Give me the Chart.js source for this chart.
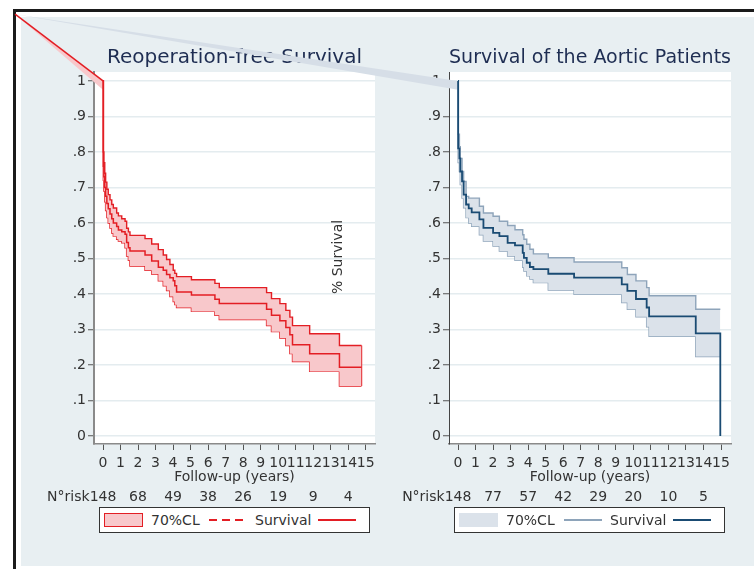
<!DOCTYPE html>
<html>
<head>
<meta charset="utf-8">
<script src="https://cdn.jsdelivr.net/npm/chart.js@4"></script>
<style>
  body { margin: 0; background: #fff; }
  #wrap { position: relative; width: 754px; height: 569px; overflow: hidden; font-family: "DejaVu Sans", sans-serif; }
  .frame { position: absolute; background: #1b1b1b; }
  #panel { position: absolute; left: 21px; top: 17px; right: 0; height: 549px; background: #e8eff2; }
  canvas { position: absolute; left: 0; top: 0; }
  .legend { position: absolute; top: 507px; width: 269px; height: 24px; background: #fff; border: 1px solid #333; }
  .legend span { position: absolute; }
  .legend .txt { top: 0; line-height: 24px; font-size: 14px; color: #333; white-space: nowrap; }
  .legend .sw { top: 5px; width: 39px; height: 14px; box-sizing: border-box; }
  .legend .key { width: 38px; }
</style>
</head>
<body>
<div id="wrap">
  <div id="panel"></div>
  <div class="frame" style="left:13px;top:9px;width:741px;height:3px"></div>
  <div class="frame" style="left:13px;top:9px;width:3px;height:560px"></div>
  <canvas id="leftChart" width="754" height="569"></canvas>
  <canvas id="rightChart" width="754" height="569"></canvas>

  <div class="legend" style="left:99px">
    <span class="sw" style="left:4px;background:#f8c8cb;border:1.5px solid #e31e24"></span>
    <span class="txt" style="left:51px">70%CL</span>
    <span class="key" style="left:109px;top:11px;height:1.5px;background:repeating-linear-gradient(to right,#e31e24 0 8px,transparent 8px 13px)"></span>
    <span class="txt" style="left:155px">Survival</span>
    <span class="key" style="left:218px;top:11px;height:1.5px;background:#e31e24"></span>
  </div>
  <div class="legend" style="left:454px">
    <span class="sw" style="left:4px;background:#dbe2ea"></span>
    <span class="txt" style="left:51px">70%CL</span>
    <span class="key" style="left:109px;top:11px;height:1.5px;background:#8ea4ba"></span>
    <span class="txt" style="left:155px">Survival</span>
    <span class="key" style="left:218px;top:11px;height:2px;background:#1a4b73"></span>
  </div>
</div>

<script>
// axis ticks
const xTicks = [0, 1, 2, 3, 4, 5, 6, 7, 8, 9, 10, 11, 12, 13, 14, 15];
const yTicks = [0, 0.1, 0.2, 0.3, 0.4, 0.5, 0.6, 0.7, 0.8, 0.9, 1];
const yTickLabels = ['0', '.1', '.2', '.3', '.4', '.5', '.6', '.7', '.8', '.9', '1'];

// numbers at risk
const riskYears = [0, 2, 4, 6, 8, 10, 12, 14];
const leftRisk = ['148', '68', '49', '38', '26', '19', '9', '4'];
const rightRisk = ['148', '77', '57', '42', '29', '20', '10', '5'];

// Reoperation-free survival (years, KM estimate, 70% CL)
const leftT = [0, 0.02, 0.05, 0.1, 0.15, 0.22, 0.3, 0.4, 0.5, 0.59, 0.78, 0.88, 1.07, 1.26, 1.35, 1.45, 1.54, 2.4, 2.78, 3.16,
  3.44, 3.63, 3.82, 4.01, 4.1, 4.2, 5.05, 6.39, 6.64, 9.34, 9.62, 10.1, 10.44, 10.67, 10.82, 11.8, 13.5, 14.76];
const leftSurv = [1, 0.76, 0.73, 0.70, 0.675, 0.655, 0.64, 0.625, 0.612, 0.60, 0.59, 0.58, 0.575, 0.568, 0.545, 0.53, 0.521, 0.51, 0.493, 0.475,
  0.467, 0.455, 0.446, 0.437, 0.423, 0.406, 0.397, 0.385, 0.373, 0.357, 0.34, 0.325, 0.306, 0.285, 0.257, 0.232, 0.194, 0.194];
const leftHi = [1, 0.80, 0.77, 0.74, 0.715, 0.695, 0.68, 0.665, 0.652, 0.642, 0.628, 0.62, 0.612, 0.605, 0.585, 0.575, 0.565, 0.556, 0.541, 0.525,
  0.51, 0.497, 0.483, 0.467, 0.458, 0.449, 0.44, 0.43, 0.418, 0.404, 0.387, 0.373, 0.354, 0.335, 0.311, 0.288, 0.255, 0.255];
const leftLo = [1, 0.72, 0.69, 0.66, 0.635, 0.615, 0.60, 0.586, 0.572, 0.563, 0.554, 0.549, 0.544, 0.53, 0.507, 0.495, 0.479, 0.467, 0.456, 0.437,
  0.423, 0.41, 0.393, 0.379, 0.37, 0.362, 0.351, 0.34, 0.328, 0.311, 0.294, 0.276, 0.255, 0.232, 0.21, 0.182, 0.141, 0.141];

// Survival of the aortic patients
const rightT = [0, 0.01, 0.08, 0.13, 0.23, 0.32, 0.46, 0.61, 0.78, 1.22, 1.45, 2.0, 2.36, 2.83, 3.25, 3.69, 3.76, 3.92, 4.1, 4.3,
  5.15, 6.62, 9.34, 9.66, 10.15, 10.76, 10.9, 13.56, 14.96];
const rightSurv = [1, 0.81, 0.782, 0.745, 0.717, 0.68, 0.652, 0.641, 0.63, 0.61, 0.586, 0.572, 0.563, 0.544, 0.537, 0.516, 0.502, 0.488, 0.476, 0.47,
  0.457, 0.446, 0.427, 0.409, 0.386, 0.362, 0.337, 0.289, 0];
const rightHi = [1, 0.85, 0.815, 0.782, 0.745, 0.717, 0.675, 0.67, 0.67, 0.647, 0.628, 0.619, 0.605, 0.593, 0.581, 0.567, 0.554, 0.54, 0.526, 0.513,
  0.502, 0.49, 0.474, 0.455, 0.437, 0.418, 0.395, 0.357, 0.357];
const rightLo = [1, 0.77, 0.745, 0.708, 0.67, 0.643, 0.615, 0.60, 0.591, 0.567, 0.549, 0.535, 0.521, 0.507, 0.495, 0.475, 0.465, 0.451, 0.442, 0.432,
  0.411, 0.399, 0.376, 0.357, 0.336, 0.308, 0.281, 0.224, 0.224];

// stray first segments (the original export starts each series from the page corner)
const leftStrayT = [-5.02, 0];
const leftStrayHi = [1.188, 1];
const leftStrayLo = [1.188, 0.975];
const rightStrayT = [-25.27, 0];
const rightStrayHi = [1.188, 1];
const rightStrayLo = [1.188, 0.975];

const FONT = { family: 'DejaVu Sans', size: 14 };
const TXT = '#333';

const pts = (t, v) => t.map((x, i) => ({ x: x, y: v[i] }));

function buildChart(id, cfg) {
    const datasets = [
        { label: 'Survival', data: pts(cfg.t, cfg.surv), stepped: true, borderColor: cfg.lineColor, borderWidth: cfg.lineWidth, pointRadius: 0, fill: false },
        { label: '70%CL', data: pts(cfg.t, cfg.hi), stepped: true, borderColor: cfg.edgeColor, borderWidth: 1.4, pointRadius: 0, backgroundColor: cfg.bandColor, fill: '+1' },
        { label: '70%CL lower', data: pts(cfg.t, cfg.lo), stepped: true, borderColor: cfg.edgeColor, borderWidth: 1.4, pointRadius: 0, fill: false }
    ].concat(cfg.extra || []);

    const extras = {
        id: 'extras_' + id,
        beforeDraw(chart) {
            const a = chart.chartArea, c = chart.ctx;
            c.save();
            c.fillStyle = '#fff';
            c.fillRect(a.left, a.top, a.right - a.left, a.bottom - a.top);
            c.restore();
        },
        beforeDatasetsDraw(chart) {
            const x = chart.scales.x, y = chart.scales.y, c = chart.ctx;
            c.save();
            c.fillStyle = cfg.strayColor;
            c.beginPath();
            c.moveTo(x.getPixelForValue(cfg.strayT[0]), y.getPixelForValue(cfg.strayHi[0]));
            c.lineTo(x.getPixelForValue(cfg.strayT[1]), y.getPixelForValue(cfg.strayHi[1]));
            c.lineTo(x.getPixelForValue(cfg.strayT[1]), y.getPixelForValue(cfg.strayLo[1]));
            c.closePath();
            c.fill();
            c.restore();
        },
        afterDraw(chart) {
            const r = chart.scales.risk, c = chart.ctx;
            c.save();
            c.font = '14px "DejaVu Sans"';
            c.fillStyle = TXT;
            c.textBaseline = 'middle';
            c.textAlign = 'right';
            const x0 = r.getPixelForValue(riskYears[0]) - c.measureText(cfg.risk[0]).width / 2;
            c.fillText('N°risk', x0, r.top + 3 + 8.4);
            if (cfg.yTitle) {
                // the y title of this graph lands inside the left panel
                c.translate(338, 257);
                c.rotate(-Math.PI / 2);
                c.textAlign = 'center';
                c.fillText(cfg.yTitle, 0, 0);
            }
            c.restore();
        }
    };

    return new Chart(document.getElementById(id).getContext('2d'), {
        type: 'line',
        data: { datasets: datasets },
        options: {
            responsive: false,
            animation: false,
            devicePixelRatio: 1,
            layout: { padding: cfg.padding },
            plugins: {
                legend: { display: false },
                tooltip: { enabled: false },
                title: {
                    display: true, text: cfg.title, fullSize: false, color: '#1e2d52',
                    font: { family: 'DejaVu Sans', size: 20, weight: 'normal' },
                    padding: { top: 46, bottom: 2 }
                }
            },
            scales: {
                x: {
                    type: 'linear', position: 'bottom', weight: 0, min: cfg.xMin, max: cfg.xMax,
                    afterBuildTicks: s => { s.ticks = xTicks.map(v => ({ value: v })); },
                    ticks: { font: FONT, color: TXT, padding: 5, autoSkip: false, maxRotation: 0, callback: v => String(v) },
                    grid: { drawOnChartArea: false, tickLength: 6, tickColor: '#555' },
                    border: { color: '#8a8a8a', width: 1.5 },
                    title: { display: true, text: 'Follow-up (years)', font: FONT, color: TXT, padding: { top: -8, bottom: 0 } }
                },
                risk: {
                    type: 'linear', position: 'bottom', weight: 1, min: cfg.xMin, max: cfg.xMax,
                    afterBuildTicks: s => { s.ticks = riskYears.map(v => ({ value: v })); },
                    ticks: { font: FONT, color: TXT, padding: 3, autoSkip: false, maxRotation: 0, callback: (v, i) => cfg.risk[i] },
                    grid: { display: false, drawTicks: false },
                    border: { display: false }
                },
                y: {
                    type: 'linear', position: 'left', min: -0.0224, max: 1.0252,
                    afterFit: s => { s.width = 75; },
                    afterBuildTicks: s => { s.ticks = yTicks.map(v => ({ value: v })); },
                    ticks: { font: FONT, color: TXT, padding: 2, callback: (v, i) => yTickLabels[i] },
                    grid: { color: '#e4ecef', lineWidth: 1.5, tickLength: 6, tickColor: '#555', tickWidth: 1 },
                    border: { color: cfg.yBorder, width: cfg.yBorderWidth }
                }
            }
        },
        plugins: [extras]
    });
}

const RED = '#e31e24';

buildChart('leftChart', {
    title: 'Reoperation-free Survival',
    t: leftT, surv: leftSurv, hi: leftHi, lo: leftLo, risk: leftRisk,
    lineColor: RED, lineWidth: 1.5, edgeColor: RED, bandColor: '#f8c8cb',
    strayT: leftStrayT, strayHi: leftStrayHi, strayLo: leftStrayLo, strayColor: '#f8c8cb',
    xMin: -0.514, xMax: 15.53,
    yBorder: '#8a8a8a', yBorderWidth: 2,
    padding: { left: 19, right: 379, top: 0, bottom: 60.6 },
    extra: [
        // closing edge of the band at the last follow-up time
        { data: [{ x: leftT[leftT.length - 1], y: leftHi[leftHi.length - 1] }, { x: leftT[leftT.length - 1], y: leftLo[leftLo.length - 1] }],
          borderColor: RED, borderWidth: 1.4, pointRadius: 0, fill: false },
        { data: pts(leftStrayT, leftStrayHi), borderColor: RED, borderWidth: 1.5, pointRadius: 0, fill: false, clip: false }
    ]
});

buildChart('rightChart', {
    title: 'Survival of the Aortic Patients',
    t: rightT, surv: rightSurv, hi: rightHi, lo: rightLo, risk: rightRisk,
    lineColor: '#1a4b73', lineWidth: 1.8, edgeColor: '#8ea4ba', bandColor: '#dbe2ea',
    strayT: rightStrayT, strayHi: rightStrayHi, strayLo: rightStrayLo, strayColor: '#d6dee7',
    xMin: -0.514, xMax: 15.57,
    yBorder: '#444', yBorderWidth: 1,
    yTitle: '% Survival',
    padding: { left: 374, right: 23, top: 0, bottom: 60.6 }
});
</script>
</body>
</html>
